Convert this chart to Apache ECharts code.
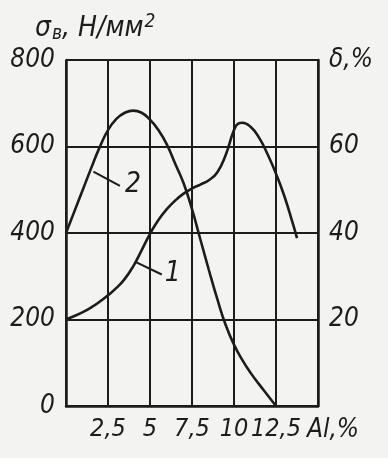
<!DOCTYPE html>
<html>
<head>
<meta charset="utf-8">
<script src="https://cdn.jsdelivr.net/npm/echarts@6/dist/echarts.min.js"></script>
<style>
  html, body { margin: 0; padding: 0; background: #f3f3f1; }
  #chart { width: 388px; height: 458px; }
</style>
</head>
<body>
<div id="chart"></div>
<script>
// Curve 1: tensile strength σв (N/mm²) against Al content (%)
const alStrength = [0, 0.5, 1.0, 1.5, 2.0, 2.5, 3.0, 3.5, 4.0, 4.5, 5.0, 5.5, 6.0, 6.5, 7.0, 7.5, 8.0, 8.5, 9.0, 9.5, 10.0, 10.25, 10.5, 11.0, 11.5, 12.0, 12.5, 13.0, 13.5, 13.75];
const strength   = [200, 208, 217, 228, 241, 256, 273, 294, 323, 360, 398, 430, 455, 475, 491, 503, 512, 522, 540, 580, 638, 653, 655, 645, 620, 582, 537, 485, 422, 388];

// Curve 2: elongation δ (%) against Al content (%)
const alElong    = [0, 0.5, 1.0, 1.5, 2.0, 2.5, 3.0, 3.5, 4.0, 4.5, 5.0, 5.5, 6.0, 6.5, 7.0, 7.5, 8.0, 8.5, 9.0, 9.5, 10.0, 10.5, 11.0, 11.5, 12.0, 12.5];
const elongation = [40, 45, 50, 55, 59.8, 63.8, 66.4, 67.8, 68.3, 67.8, 66.2, 63.8, 60.5, 56, 51.5, 45.5, 38.5, 31.5, 24.8, 18.8, 14.2, 10.6, 7.6, 5, 2.5, 0];

// Tick labels (comma decimals)
const xTickLabels = { 2.5: '2,5', 5: '5', 7.5: '7,5', 10: '10', 12.5: '12,5' };
const leftTickLabels = { 0: '0', 200: '200', 400: '400', 600: '600', 800: '800' };
const rightTickLabels = { 20: '20', 40: '40', 60: '60', 80: 'δ,%' };

// Curve callouts: leader start, leader end, number position (in each curve's units)
const callout1 = { from: [4.1, 334], to: [5.7, 304], text: [6.35, 306], label: '1' };
const callout2 = { from: [1.63, 54.2], to: [3.21, 50.9], text: [3.99, 51.2], label: '2' };

const ink = '#1c1c1c';
const font = '"DejaVu Sans Condensed", "Liberation Sans", sans-serif';
const fs = 26;

const pairs = (xs, ys) => xs.map((x, i) => [x, ys[i]]);

const calloutMarks = (c) => ({
  markLine: {
    silent: true,
    symbol: 'none',
    label: { show: false },
    lineStyle: { color: ink, width: 2, type: 'solid' },
    data: [[{ coord: c.from }, { coord: c.to }]]
  },
  markPoint: {
    silent: true,
    symbol: 'circle',
    symbolSize: 0,
    label: {
      show: true, position: 'inside', formatter: c.label,
      color: ink, fontFamily: font, fontStyle: 'italic', fontSize: 28
    },
    data: [{ coord: c.text }]
  }
});

const chart = echarts.init(document.getElementById('chart'), null, { renderer: 'canvas' });

chart.setOption({
  animation: false,
  backgroundColor: '#f3f3f1',
  title: {
    left: 30, top: 8,
    text: '{s|σ}{sub|в}{s|, Н/мм}{sup|2}',
    textStyle: {
      fontWeight: 'normal',
      rich: {
        s:   { fontFamily: font, fontStyle: 'italic', fontWeight: 'normal', fontSize: 28, color: ink },
        sub: { fontFamily: font, fontStyle: 'italic', fontWeight: 'normal', fontSize: 19, color: ink, verticalAlign: 'bottom', padding: [12, 0, 0, 1] },
        sup: { fontFamily: font, fontStyle: 'italic', fontWeight: 'normal', fontSize: 19, color: ink, verticalAlign: 'top', padding: [0, 0, 10, 1] }
      }
    }
  },
  grid: { left: 66, right: 70, top: 60, bottom: 52, containLabel: false },
  xAxis: {
    type: 'value', min: 0, max: 15, interval: 2.5,
    name: 'Al,%',
    nameLocation: 'end',
    nameGap: -12,
    nameTextStyle: {
      fontFamily: font, fontStyle: 'italic', fontSize: fs, color: ink,
      align: 'left', verticalAlign: 'top', padding: [11, 0, 0, 0]
    },
    axisLine: { show: true, lineStyle: { color: ink, width: 2.5 } },
    axisTick: { show: false },
    splitLine: { show: true, lineStyle: { color: ink, width: 2 } },
    axisLabel: {
      margin: 11,
      fontFamily: font, fontStyle: 'italic', fontSize: 25, color: ink,
      formatter: (v) => xTickLabels[v] || ''
    }
  },
  yAxis: [
    {
      type: 'value', min: 0, max: 800, interval: 200, position: 'left',
      axisLine: { show: true, lineStyle: { color: ink, width: 2.5 } },
      axisTick: { show: false },
      splitLine: { show: true, lineStyle: { color: ink, width: 2 } },
      axisLabel: {
        margin: 11,
        fontFamily: font, fontStyle: 'italic', fontSize: fs, color: ink,
        formatter: (v) => leftTickLabels[v] || ''
      }
    },
    {
      type: 'value', min: 0, max: 80, interval: 20, position: 'right',
      axisLine: { show: true, lineStyle: { color: ink, width: 2.5 } },
      axisTick: { show: false },
      splitLine: { show: false },
      axisLabel: {
        margin: 11,
        fontFamily: font, fontStyle: 'italic', fontSize: fs, color: ink,
        formatter: (v) => rightTickLabels[v] || ''
      }
    }
  ],
  series: [
    Object.assign({
      name: '1',
      type: 'line',
      yAxisIndex: 0,
      smooth: 0.5,
      showSymbol: false,
      lineStyle: { color: ink, width: 2.6 },
      data: pairs(alStrength, strength)
    }, calloutMarks(callout1)),
    Object.assign({
      name: '2',
      type: 'line',
      yAxisIndex: 1,
      smooth: 0.5,
      showSymbol: false,
      lineStyle: { color: ink, width: 2.6 },
      data: pairs(alElong, elongation)
    }, calloutMarks(callout2))
  ]
});
</script>
</body>
</html>
